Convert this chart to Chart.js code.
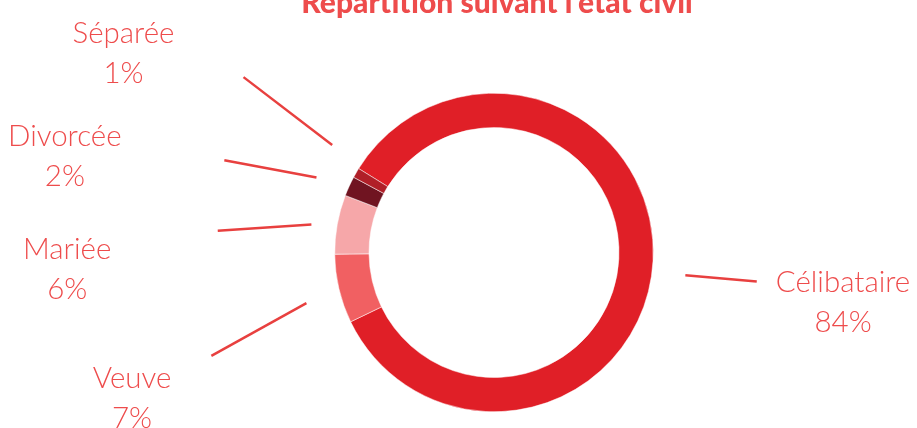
<!DOCTYPE html>
<html>
<head>
<meta charset="utf-8">
<script src="https://cdn.jsdelivr.net/npm/chart.js@4.4.0/dist/chart.umd.min.js"></script>
<style>
	html, body { margin: 0; padding: 0; background: #fff; }
	#wrap { width: 917px; height: 428px; position: relative; }
</style>
</head>
<body>
<div id="wrap"><canvas id="etatCivilChart"></canvas></div>
<script>
// données
const TITLE = "Répartition suivant l'état civil";
const labels = ['Célibataire', 'Veuve', 'Mariée', 'Divorcée', 'Séparée'];
const values = [84, 7, 6, 2, 1];
const colors = ['#e01f27', '#f16062', '#f6a7a9', '#701421', '#b01f28'];

// placement des étiquettes : [décalage angle ligne int., rayon int., décalage angle ligne ext., rayon ext., décalage angle texte, rayon texte]
const placement = [
	[3.8, 1.21, 3.3, 1.66, 2.0, 2.2],
	[-1.9, 1.22, -6.9, 1.89, -6.2, 2.41],
	[-1.5, 1.16, -5.7, 1.74, -9.9, 2.68],
	[-1.7, 1.21, -5.7, 1.79, -9.6, 2.79],
	[3.6, 1.22, 5.0, 1.92, 0.5, 2.70]
];

const TEXT_COLOR = '#ee4c4c';
const LINE_COLOR = '#e8403f';

const pt = (cx, cy, deg, r) => {
	const a = deg * Math.PI / 180;
	return [cx + Math.cos(a) * r, cy + Math.sin(a) * r];
};

const labelPlugin = {
	id: 'etiquettes',
	afterDraw: (chart) => {
		const ctx = chart.ctx;
		const meta = chart.getDatasetMeta(0);
		ctx.save();
		// titre (coupé en haut comme l'original)
		ctx.fillStyle = TEXT_COLOR;
		ctx.font = '900 30px Lato';
		ctx.textAlign = 'center';
		ctx.textBaseline = 'alphabetic';
		ctx.fillText(TITLE, 497, 13);

		meta.data.forEach((arc, i) => {
			const mid = ((arc.startAngle + arc.endAngle) / 2) * 180 / Math.PI;
			const R = arc.outerRadius;
			const p = placement[i];
			const a = pt(arc.x, arc.y, mid + p[0], R * p[1]);
			const b = pt(arc.x, arc.y, mid + p[2], R * p[3]);
			ctx.strokeStyle = LINE_COLOR;
			ctx.lineWidth = 2.5;
			ctx.beginPath();
			ctx.moveTo(a[0], a[1]);
			ctx.lineTo(b[0], b[1]);
			ctx.stroke();

			const t = pt(arc.x, arc.y, mid + p[4], R * p[5]);
			ctx.fillStyle = TEXT_COLOR;
			ctx.font = '300 29.5px Lato';
			ctx.textAlign = 'center';
			ctx.textBaseline = 'middle';
			ctx.fillText(labels[i], t[0], t[1] - 1);
			ctx.fillText(values[i] + '%', t[0], t[1] + 39);
		});
		ctx.restore();
	}
};

const ctx = document.getElementById('etatCivilChart');
window.chart = new Chart(ctx, {
	type: 'doughnut',
	data: {
		labels: labels,
		datasets: [{
			data: values,
			backgroundColor: colors,
			borderColor: '#ffffff',
			borderWidth: 0.5
		}]
	},
	options: {
		responsive: true,
		maintainAspectRatio: false,
		animation: false,
		cutout: '78.5%',
		rotation: -58.2,
		layout: {
			padding: { left: 334, right: 263, top: 93, bottom: 16 }
		},
		plugins: {
			legend: { display: false },
			tooltip: { enabled: false },
			title: { display: false }
		}
	},
	plugins: [labelPlugin]
});
</script>
</body>
</html>
